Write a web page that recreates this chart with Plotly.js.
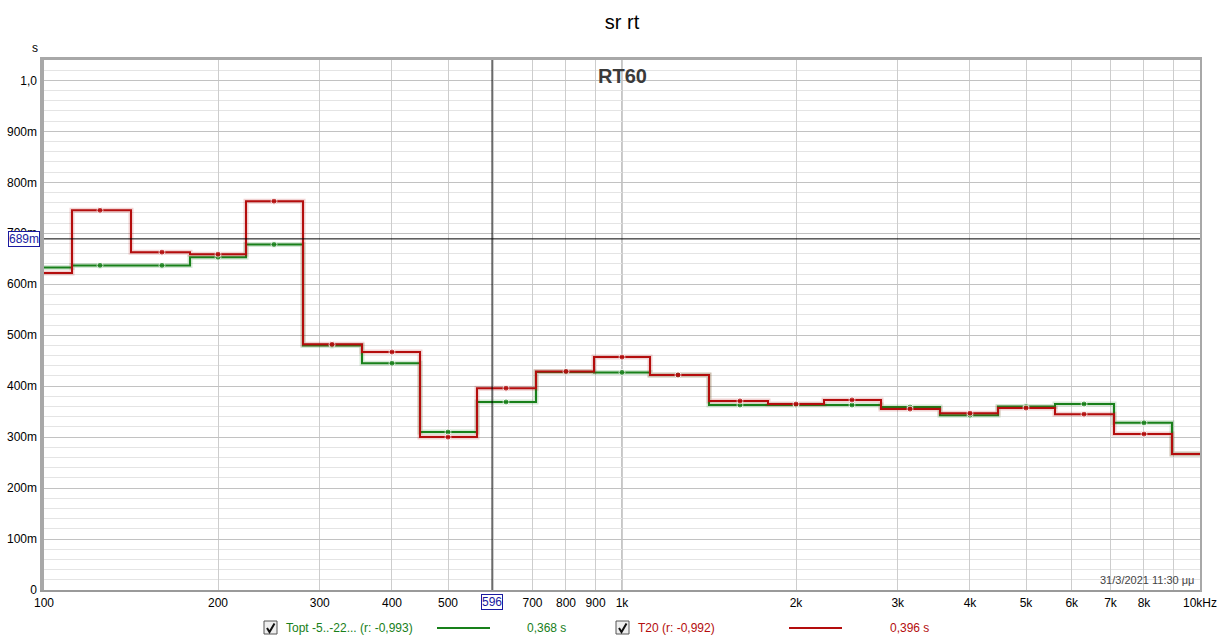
<!DOCTYPE html>
<html>
<head>
<meta charset="utf-8">
<script src="https://cdn.plot.ly/plotly-3.0.1.min.js"></script>
<style>html,body{margin:0;padding:0;background:#fff;}#chart{width:1222px;height:642px;}</style>
</head>
<body>
<div id="chart"></div>
<script>
// ---- data ----
const bands = [100,125,160,200,250,315,400,500,630,800,1000,1250,1600,2000,2500,3150,4000,5000,6300,8000,10000];
const toptValues = [0.633,0.637,0.637,0.653,0.678,0.480,0.445,0.310,0.369,0.428,0.427,0.422,0.363,0.363,0.363,0.359,0.343,0.360,0.365,0.328,0.267];
const t20Values  = [0.622,0.745,0.663,0.659,0.763,0.482,0.467,0.300,0.396,0.429,0.457,0.422,0.371,0.365,0.373,0.355,0.347,0.357,0.345,0.306,0.267];
const xTickVals  = [100,200,300,400,500,600,700,800,900,1000,2000,3000,4000,5000,6000,7000,8000,9000,10000];
const xTickText  = ["100","200","300","400","500","","700","800","900","1k","2k","3k","4k","5k","6k","7k","8k","","10kHz"];
const yTickVals  = [0,0.1,0.2,0.3,0.4,0.5,0.6,0.7,0.8,0.9,1.0];
const yTickText  = ["0","100m","200m","300m","400m","500m","600m","700m","800m","900m","1,0"];
const cursorFreq = 596;
const cursorLevel = 0.689;
const legendTopt = "Topt -5..-22... (r: -0,993)";
const legendT20  = "T20 (r: -0,992)";
const valueTopt = "0,368 s";
const valueT20  = "0,396 s";

// ---- layout geometry ----
const W = 1222, H = 642, L = 44, R = 1200, T = 60, B = 590;
const px = p => (p - L) / (R - L);
const py = p => (B - p) / (B - T);
const GREEN = '#18801a', RED = '#b40d0d';
const FONT = 'Liberation Sans, Arial, sans-serif';

const markerSizes = bands.map((b, i) => (i === 0 || i === bands.length - 1) ? 0 : 6);

const traces = [
  {x: bands, y: toptValues, mode: 'lines', line: {shape: 'hvh', color: GREEN, width: 5}, opacity: 0.18, hoverinfo: 'skip', showlegend: false},
  {x: bands, y: toptValues, mode: 'lines+markers', line: {shape: 'hvh', color: GREEN, width: 2}, marker: {size: markerSizes, color: GREEN}, showlegend: false},
  {x: bands, y: t20Values, mode: 'lines', line: {shape: 'hvh', color: RED, width: 5}, opacity: 0.18, hoverinfo: 'skip', showlegend: false},
  {x: bands, y: t20Values, mode: 'lines+markers', line: {shape: 'hvh', color: RED, width: 2}, marker: {size: markerSizes, color: RED}, showlegend: false}
];

function checkPath(x0, y0) {
  const pts = [[x0 + 3, y0 + 7], [x0 + 5.5, y0 + 11], [x0 + 10.5, y0 + 2.5]];
  return 'M ' + pts.map(p => px(p[0]) + ',' + py(p[1])).join(' L ');
}

const shapes = [
  {type: 'line', xref: 'x', yref: 'paper', x0: 1000, x1: 1000, y0: 0, y1: 1, line: {color: '#8c8c8c', width: 1}, layer: 'below'},
  {type: 'line', xref: 'x', yref: 'paper', x0: cursorFreq, x1: cursorFreq, y0: 0, y1: 1, line: {color: '#000', width: 1}},
  {type: 'line', xref: 'paper', yref: 'y', x0: 0, x1: 1, y0: cursorLevel, y1: cursorLevel, line: {color: '#000', width: 1}},
  {type: 'rect', xref: 'paper', yref: 'paper', x0: px(L - 4), x1: px(L), y0: py(B + 2), y1: py(T - 3), fillcolor: '#a8a8a8', line: {width: 0}},
  {type: 'rect', xref: 'paper', yref: 'paper', x0: px(L - 4), x1: px(R + 2), y0: py(T), y1: py(T - 3), fillcolor: '#a8a8a8', line: {width: 0}},
  {type: 'rect', xref: 'paper', yref: 'paper', x0: px(L - 4), x1: px(R + 2), y0: py(B + 2), y1: py(B), fillcolor: '#9a9a9a', line: {width: 0}},
  {type: 'rect', xref: 'paper', yref: 'paper', x0: px(R), x1: px(R + 2), y0: py(B + 2), y1: py(T - 3), fillcolor: '#a8a8a8', line: {width: 0}},
  {type: 'rect', xref: 'paper', yref: 'paper', x0: px(264), x1: px(277), y0: py(634), y1: py(621), fillcolor: '#eeeeee', line: {color: '#555', width: 1}},
  {type: 'path', xref: 'paper', yref: 'paper', path: checkPath(264, 621), line: {color: '#111', width: 2}},
  {type: 'rect', xref: 'paper', yref: 'paper', x0: px(616), x1: px(629), y0: py(634), y1: py(621), fillcolor: '#eeeeee', line: {color: '#555', width: 1}},
  {type: 'path', xref: 'paper', yref: 'paper', path: checkPath(616, 621), line: {color: '#111', width: 2}},
  {type: 'line', xref: 'paper', yref: 'paper', x0: px(437), x1: px(490), y0: py(628), y1: py(628), line: {color: GREEN, width: 2}},
  {type: 'line', xref: 'paper', yref: 'paper', x0: px(789), x1: px(842), y0: py(628), y1: py(628), line: {color: RED, width: 2}}
];

const A = (o) => Object.assign({showarrow: false, xanchor: 'center', yanchor: 'middle'}, o);
const annotations = [
  A({text: 'RT60', xref: 'x', yref: 'paper', x: Math.log10(1000), y: py(76), font: {family: FONT, size: 20, color: '#3a3a3a', weight: 'bold'}}),
  A({text: 's', xref: 'paper', yref: 'paper', x: px(35), y: py(48), font: {family: FONT, size: 12, color: '#000'}}),
  A({text: '31/3/2021 11:30 μμ', xref: 'paper', yref: 'paper', x: px(1196), y: py(580), xanchor: 'right', font: {family: FONT, size: 11, color: '#444'}}),
  A({text: String(Math.round(cursorLevel * 1000)) + 'm', xref: 'paper', yref: 'y', x: px(40), y: cursorLevel, xanchor: 'right', bgcolor: '#fff', bordercolor: '#1a1aa0', borderwidth: 1, borderpad: 0, font: {family: FONT, size: 12, color: '#1a1aa0'}}),
  A({text: String(cursorFreq), xref: 'x', yref: 'paper', x: Math.log10(cursorFreq), y: py(602), bgcolor: '#fff', bordercolor: '#1a1aa0', borderwidth: 1, borderpad: 0, font: {family: FONT, size: 12, color: '#1a1aa0'}}),
  A({text: legendTopt, xref: 'paper', yref: 'paper', x: px(284), y: py(628), xanchor: 'left', font: {family: FONT, size: 12, color: GREEN}}),
  A({text: valueTopt, xref: 'paper', yref: 'paper', x: px(525), y: py(628), xanchor: 'left', font: {family: FONT, size: 12, color: GREEN}}),
  A({text: legendT20, xref: 'paper', yref: 'paper', x: px(636), y: py(628), xanchor: 'left', font: {family: FONT, size: 12, color: RED}}),
  A({text: valueT20, xref: 'paper', yref: 'paper', x: px(888), y: py(628), xanchor: 'left', font: {family: FONT, size: 12, color: RED}})
];

const layout = {
  width: W, height: H,
  margin: {l: L, r: W - R, t: T, b: H - B, pad: 0},
  paper_bgcolor: '#fff', plot_bgcolor: '#fff',
  font: {family: FONT, size: 12, color: '#000'},
  title: {text: 'sr rt', x: 0.5, xref: 'paper', y: 1 - 22 / H, yanchor: 'middle', font: {family: FONT, size: 20, color: '#000'}},
  xaxis: {type: 'log', range: [Math.log10(100), Math.log10(10000)], tickvals: xTickVals, ticktext: xTickText,
    showgrid: true, gridcolor: '#cdcdcd', gridwidth: 1, zeroline: false, showline: false, ticks: '', ticklabelstandoff: 4, tickfont: {size: 12}, fixedrange: true},
  yaxis: {range: [0, 1.04], tickvals: yTickVals, ticktext: yTickText, showgrid: true, gridcolor: '#c2c2c2', gridwidth: 1,
    minor: {dtick: 0.02, showgrid: true, gridcolor: '#e4e4e4', ticks: ''},
    zeroline: false, showline: false, ticks: '', ticklabelstandoff: 6, tickfont: {size: 12}, fixedrange: true},
  shapes: shapes,
  annotations: annotations,
  showlegend: false
};

Plotly.newPlot('chart', traces, layout, {displayModeBar: false, staticPlot: true});
</script>
</body>
</html>
